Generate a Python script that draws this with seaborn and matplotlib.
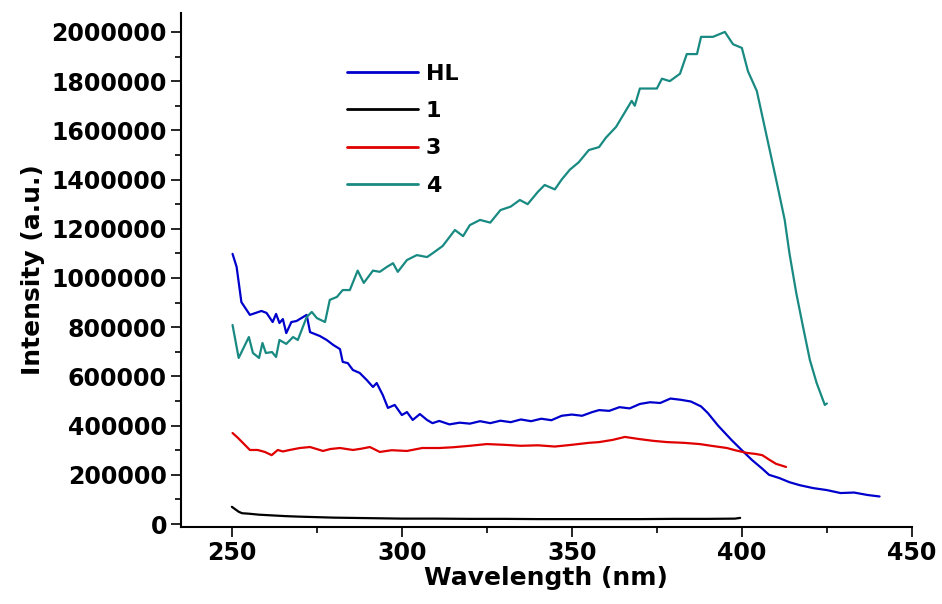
import numpy as np
import pandas as pd
import matplotlib
matplotlib.use("Agg")
import matplotlib.pyplot as plt
from matplotlib.ticker import MultipleLocator
import seaborn as sns

# ==========================================
# DATA
# ==========================================
hl_wl = [250.2, 251.4, 252.8, 255.3, 258.7, 260.2, 262, 263, 264, 265, 266, 267.5, 269, 272, 273,
         275.9, 277.9, 279.8, 281.8, 282.6, 284.1, 285.6, 287.6, 289.7, 291.5, 292.6, 294.4, 295.9,
         297.9, 300, 301.5, 303.2, 305.3, 307.4, 309, 311, 314, 317, 320, 323, 326, 329, 332, 335,
         338, 341, 344, 347, 350, 353, 356, 358, 361, 364, 367, 370, 373, 376, 379, 382, 385, 388,
         390, 393, 397, 400, 403, 406, 408, 411, 414, 417, 421, 425, 429, 433, 437, 440.5]
hl_int = [1098000, 1045000, 902000, 850000, 866000, 858000, 821000, 854000, 817000, 833000, 776000,
          821000, 825000, 850000, 780000, 764000, 748000, 728000, 711000, 659000, 654000, 626000,
          614000, 585000, 557000, 573000, 524000, 472000, 484000, 443000, 455000, 423000, 447000,
          423000, 410000, 419000, 405000, 412000, 408000, 418000, 410000, 420000, 414000, 425000,
          418000, 428000, 422000, 440000, 445000, 440000, 455000, 463000, 460000, 475000, 470000,
          488000, 495000, 492000, 510000, 505000, 498000, 478000, 451000, 400000, 341000, 300000,
          260000, 225000, 200000, 187000, 170000, 158000, 146000, 138000, 126000, 128000, 118000,
          112000]

c1_wl = [250, 251, 252, 253, 255, 258, 262, 266, 270, 275, 280, 290, 300, 310, 320, 330, 340, 350,
         360, 370, 380, 390, 398, 399.5]
c1_int = [70000, 60000, 50000, 44000, 42000, 38000, 35000, 32000, 30000, 28000, 26000, 24000, 22000,
          22000, 21000, 21000, 20000, 20000, 20000, 20000, 21000, 21000, 22000, 25000]

c3_wl = [250.2, 251.8, 253.3, 255.3, 257.6, 259.7, 261.7, 263.5, 265, 267, 270, 273, 276.8, 279,
         281.8, 285.6, 288, 290.6, 293.5, 297, 301.5, 306, 311, 315, 320, 325, 330, 335, 340, 345,
         350, 355, 358, 362, 365.6, 370, 374, 378, 383, 387.6, 391, 395.6, 398, 401.5, 404, 406,
         408, 410, 413]
c3_int = [370000, 350000, 329000, 301000, 301000, 293000, 280000, 301000, 295000, 301000, 309000,
          313000, 297000, 305000, 309000, 301000, 306000, 313000, 293000, 300000, 297000, 309000,
          309000, 312000, 318000, 325000, 322000, 318000, 320000, 315000, 322000, 330000, 333000,
          342000, 354000, 345000, 338000, 333000, 330000, 325000, 318000, 309000, 300000, 289000,
          285000, 280000, 262000, 245000, 232000]

c4_wl = [250.2, 252, 255, 256.2, 258, 259, 260, 261.8, 263, 264, 266, 268, 269.4, 272, 273.5, 275,
         277.4, 278.8, 280.9, 282.6, 284.7, 287, 288.8, 291.5, 293.5, 295.6, 297.4, 298.8, 301.5,
         304.4, 307.4, 309, 312, 315.6, 318, 320, 323, 326, 329, 332, 334.7, 337, 340, 342, 345,
         347, 349.4, 352, 355, 358, 360, 363, 365, 367.6, 368.5, 370, 375, 376.5, 378.8, 381.8,
         383.8, 386.8, 388, 391.5, 395, 397.4, 400, 401.8, 404.4, 407.4, 410.3, 412.6, 414, 416,
         418, 420, 422, 424.4, 425]
c4_int = [809000, 675000, 760000, 695000, 675000, 736000, 695000, 699000, 679000, 748000, 732000,
          760000, 748000, 841000, 862000, 837000, 821000, 911000, 923000, 951000, 951000, 1030000,
          980000, 1030000, 1025000, 1045000, 1060000, 1025000, 1073000, 1093000, 1085000, 1100000,
          1130000, 1195000, 1170000, 1215000, 1236000, 1225000, 1276000, 1290000, 1317000, 1300000,
          1350000, 1378000, 1360000, 1400000, 1440000, 1470000, 1520000, 1532000, 1570000, 1614000,
          1660000, 1720000, 1700000, 1770000, 1770000, 1810000, 1800000, 1830000, 1910000, 1910000,
          1980000, 1980000, 2000000, 1950000, 1935000, 1840000, 1760000, 1570000, 1386000, 1236000,
          1100000, 939000, 801000, 667000, 573000, 484000, 490000]

series = [("HL", hl_wl, hl_int, "#0000cc"),
          ("1", c1_wl, c1_int, "#000000"),
          ("3", c3_wl, c3_int, "#e00000"),
          ("4", c4_wl, c4_int, "#198a82")]

# ==========================================
# PLOT
# ==========================================
sns.set_theme(style="ticks")
plt.rcParams['font.family'] = ['DejaVu Sans']
plt.rcParams['font.weight'] = 'bold'
plt.rcParams['text.color'] = 'black'
plt.rcParams['axes.labelcolor'] = 'black'
plt.rcParams['xtick.color'] = 'black'
plt.rcParams['ytick.color'] = 'black'

fig = plt.figure(figsize=(9.42, 6.04), dpi=100)
ax = fig.add_axes([0.192, 0.1275, 0.776, 0.851])

for nome, wl, inten, cor in series:
    df = pd.DataFrame({"wl": wl, "int": inten})
    sns.lineplot(data=df, x="wl", y="int", ax=ax, color=cor, lw=1.6, label=nome,
                 sort=False, estimator=None)

ax.set_xlim(235, 450)
ax.set_ylim(-12000, 2077000)
ax.xaxis.set_major_locator(MultipleLocator(50))
ax.xaxis.set_minor_locator(MultipleLocator(25))
ax.yaxis.set_major_locator(MultipleLocator(200000))
ax.yaxis.set_minor_locator(MultipleLocator(100000))
ax.ticklabel_format(style='plain', axis='y')

ax.tick_params(which='major', direction='out', length=7, width=1.2, labelsize=17, pad=3)
ax.tick_params(which='minor', direction='out', length=4, width=1.2)
for lab in ax.get_xticklabels() + ax.get_yticklabels():
    lab.set_fontweight('bold')

for s in ['top', 'right']:
    ax.spines[s].set_visible(False)
for s in ['left', 'bottom']:
    ax.spines[s].set_linewidth(1.5)
    ax.spines[s].set_color('black')

ax.set_xlabel("Wavelength (nm)", fontsize=18, fontweight='bold', labelpad=1)
ax.set_ylabel("Intensity (a.u.)", fontsize=18, fontweight='bold', labelpad=5)

leg = ax.legend(loc='upper left', bbox_to_anchor=(0.20, 0.94), frameon=False, fontsize=16,
                handlelength=3.2, handletextpad=0.35, labelspacing=0.78)
for line in leg.get_lines():
    line.set_linewidth(2)
for t in leg.get_texts():
    t.set_fontweight('bold')

plt.savefig('out.png', dpi=100)
